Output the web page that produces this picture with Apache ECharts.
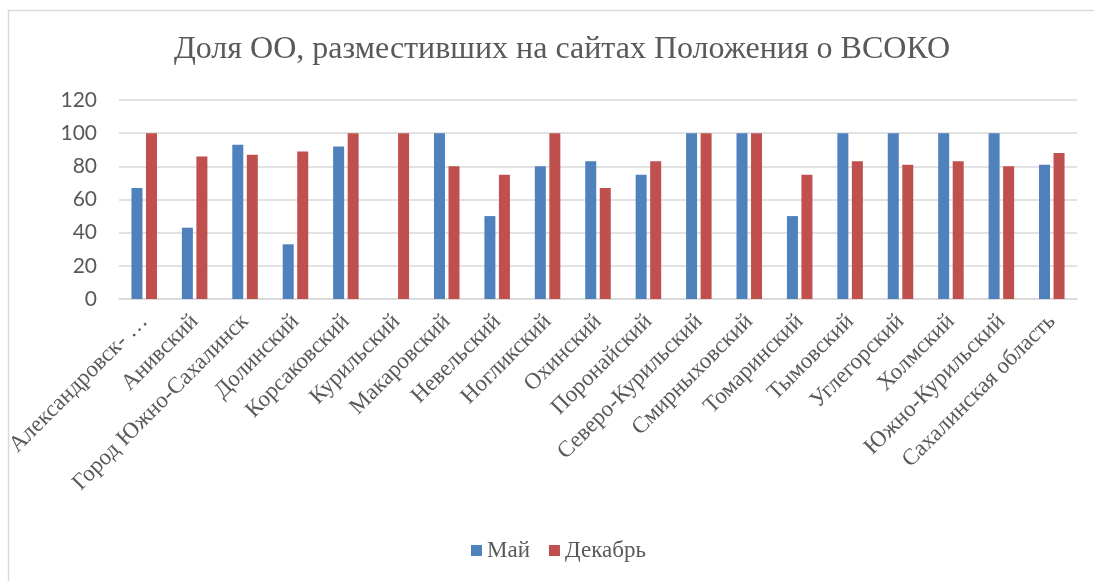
<!DOCTYPE html>
<html>
<head>
<meta charset="utf-8">
<script src="https://cdn.jsdelivr.net/npm/echarts@6/dist/echarts.min.js"></script>
<style>
  html, body { margin: 0; padding: 0; background: #fff; }
  #chart { width: 1094px; height: 581px; }
</style>
</head>
<body>
<div id="chart"></div>
<script>
  var categories = ['Александровск- …', 'Анивский', 'Город Южно-Сахалинск', 'Долинский', 'Корсаковский',
    'Курильский', 'Макаровский', 'Невельский', 'Ногликский', 'Охинский', 'Поронайский',
    'Северо-Курильский', 'Смирныховский', 'Томаринский', 'Тымовский', 'Углегорский',
    'Холмский', 'Южно-Курильский', 'Сахалинская область'];
  var mayValues = [67, 43, 93, 33, 92, 0, 100, 50, 80, 83, 75, 100, 100, 50, 100, 100, 100, 100, 81];
  var decValues = [100, 86, 87, 89, 100, 100, 80, 75, 100, 67, 83, 100, 100, 75, 83, 81, 83, 80, 88];
  var yTicks = [0, 20, 40, 60, 80, 100, 120];

  var serif = '"Liberation Serif", "Times New Roman", serif';
  var myChart = echarts.init(document.getElementById('chart'));
  myChart.setOption({
    animation: false,
    graphic: [{
      type: 'rect',
      shape: { x: 8.5, y: 10.5, width: 1100, height: 600 },
      style: { fill: 'none', stroke: '#d9d9d9', lineWidth: 1.5 },
      silent: true
    }],
    title: {
      text: 'Доля ОО, разместивших на сайтах Положения о ВСОКО',
      left: 557,
      textAlign: 'center',
      top: 29,
      textStyle: { fontFamily: serif, fontSize: 32, fontWeight: 'normal', color: '#595959' }
    },
    legend: {
      bottom: 14,
      left: 466,
      itemWidth: 11,
      itemHeight: 11,
      itemGap: 19,
      icon: 'rect',
      textStyle: { fontFamily: serif, fontSize: 23, color: '#595959' },
      data: ['Май', 'Декабрь']
    },
    grid: { left: 119, right: 17, top: 100, bottom: 282 },
    xAxis: {
      type: 'category',
      data: categories,
      axisLine: { lineStyle: { color: '#d9d9d9', width: 1.5 } },
      axisTick: { show: false },
      axisLabel: {
        interval: 0,
        rotate: 45,
        margin: 19,
        fontFamily: serif,
        fontSize: 23,
        color: '#595959'
      }
    },
    yAxis: {
      type: 'value',
      min: 0,
      max: yTicks[yTicks.length - 1],
      interval: 20,
      axisLine: { show: false },
      axisTick: { show: false },
      splitLine: { lineStyle: { color: '#d9d9d9', width: 1.5 } },
      axisLabel: { margin: 22, fontFamily: 'Lato, "Open Sans", sans-serif', fontSize: 21, color: '#595959' }
    },
    series: [{
      name: 'Май',
      type: 'bar',
      barWidth: 11,
      barGap: '32%',
      data: mayValues,
      itemStyle: { color: '#4F81BD' }
    }, {
      name: 'Декабрь',
      type: 'bar',
      barWidth: 11,
      data: decValues,
      itemStyle: { color: '#C0504D' }
    }]
  });
</script>
</body>
</html>
